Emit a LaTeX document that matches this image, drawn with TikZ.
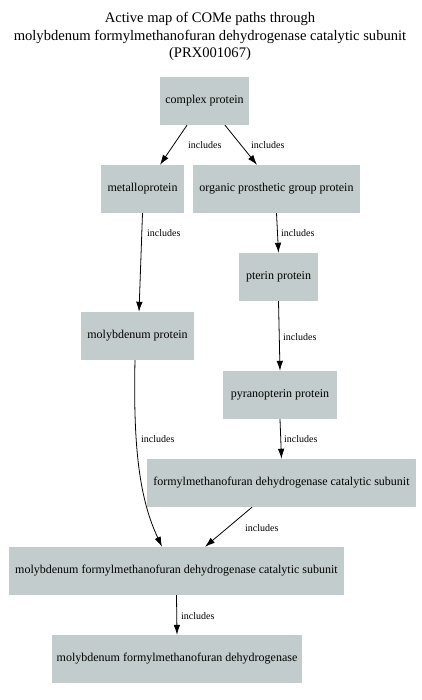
\documentclass[tikz,border=0pt]{standalone}
\usepackage{fontspec}
\setmainfont{Liberation Serif}
\usetikzlibrary{arrows.meta,calc}
\definecolor{boxfill}{HTML}{C2CCCC}
\tikzset{
  box/.style={rectangle, fill=boxfill, draw=none, inner sep=0pt, font=\fontsize{12}{14}\selectfont},
  lab/.style={inner sep=0pt, anchor=west, font=\fontsize{10}{12}\selectfont},
  conn/.style={line width=0.8pt, -{Latex[length=10pt,width=6.5pt]}},
}
\begin{document}
\begin{tikzpicture}[x=1pt,y=-1pt]
\useasboundingbox (0,0) rectangle (421,700);
\node[font=\fontsize{14.6}{17.5}\selectfont, align=center] (title) at (210,36.5)
  {Active map of COMe paths through\\molybdenum formylmethanofuran dehydrogenase catalytic subunit\\(PRX001067)};
\node[box, minimum width=89, minimum height=48] (cp) at (204.5,101) {complex protein};
\node[box, minimum width=83, minimum height=48] (mp) at (142.5,189) {metalloprotein};
\node[box, minimum width=167, minimum height=48] (op) at (276.5,189) {organic prosthetic group protein};
\node[box, minimum width=79, minimum height=48] (pp) at (278.5,277) {pterin protein};
\node[box, minimum width=113, minimum height=48] (mop) at (137.5,336) {molybdenum protein};
\node[box, minimum width=114, minimum height=48] (pyp) at (280,395) {pyranopterin protein};
\node[box, minimum width=269, minimum height=48] (fc) at (281.5,483) {formylmethanofuran dehydrogenase catalytic subunit};
\node[box, minimum width=335, minimum height=48] (mfc) at (176.5,571) {molybdenum formylmethanofuran dehydrogenase catalytic subunit};
\node[box, minimum width=250, minimum height=48] (mf) at (177,659) {molybdenum formylmethanofuran dehydrogenase};

\draw[conn] ($(cp.south)+(-17.5,0)$) -- ($(mp.north)+(17.5,0)$);
\node[lab] (l1) at (188,145) {includes};
\draw[conn] ($(cp.south)+(20.5,0)$) -- ($(op.north)+(-19.5,0)$);
\node[lab] (l2) at (251,145) {includes};
\draw[conn] (mp.south) -- ($(mop.north)+(1.5,0)$);
\node[lab] (l3) at (147,233) {includes};
\draw[conn] (op.south) -- (pp.north);
\node[lab] (l4) at (281,233) {includes};
\draw[conn] (pp.south) -- (pyp.north);
\node[lab] (l5) at (283,337) {includes};
\draw[conn] ($(mop.south)+(-2.5,0)$) .. controls (133,450) and (140,500) .. ($(mfc.north)+(-14.5,0)$);
\node[lab] (l6) at (141,439) {includes};
\draw[conn] (pyp.south) -- (fc.north);
\node[lab] (l7) at (284,439) {includes};
\draw[conn] ($(fc.south)+(-29.5,0)$) -- ($(mfc.north)+(28.5,0)$);
\node[lab] (l8) at (245,528) {includes};
\draw[conn] (mfc.south) -- (mf.north);
\node[lab] (l9) at (181,616) {includes};
\end{tikzpicture}
\end{document}
